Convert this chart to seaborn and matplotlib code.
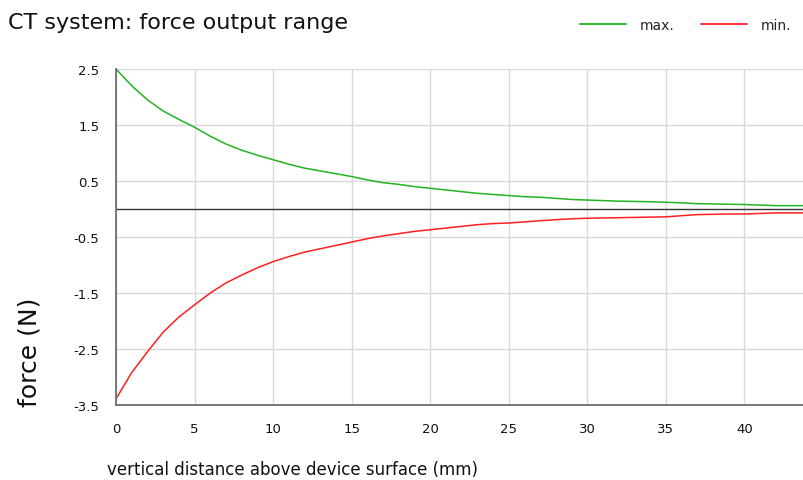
import numpy as np
import pandas as pd
import matplotlib
matplotlib.use("Agg")
import matplotlib.pyplot as plt
import seaborn as sns
from matplotlib.lines import Line2D

distance_mm = [0, 1, 2, 3, 4, 5, 6, 7, 8, 9, 10, 11, 12, 13, 14, 15, 16, 17, 18, 19, 20,
               21, 22, 23, 24, 25, 26, 27, 28, 29, 30, 31, 32, 33, 34, 35, 36, 37, 38, 39,
               40, 41, 42, 43, 44]
force_max = [2.50, 2.20, 1.95, 1.75, 1.60, 1.46, 1.30, 1.16, 1.05, 0.96, 0.88, 0.80, 0.73,
             0.68, 0.63, 0.58, 0.52, 0.47, 0.44, 0.40, 0.37, 0.34, 0.31, 0.28, 0.26, 0.24,
             0.22, 0.21, 0.19, 0.17, 0.16, 0.15, 0.14, 0.135, 0.13, 0.12, 0.11, 0.095, 0.09,
             0.085, 0.08, 0.07, 0.06, 0.06, 0.06]
force_min = [-3.39, -2.92, -2.55, -2.20, -1.93, -1.71, -1.50, -1.32, -1.18, -1.05, -0.94,
             -0.85, -0.77, -0.71, -0.65, -0.59, -0.53, -0.48, -0.44, -0.40, -0.37, -0.34,
             -0.31, -0.28, -0.26, -0.25, -0.23, -0.21, -0.19, -0.175, -0.165, -0.16, -0.155,
             -0.15, -0.145, -0.14, -0.12, -0.10, -0.095, -0.09, -0.088, -0.08, -0.07, -0.07,
             -0.07]
series_names = ["max.", "min."]
y_ticks = [2.5, 1.5, 0.5, -0.5, -1.5, -2.5, -3.5]
x_ticks = [0, 5, 10, 15, 20, 25, 30, 35, 40]

df = pd.DataFrame({
    "distance": distance_mm * 2,
    "force": force_max + force_min,
    "series": [series_names[0]] * len(distance_mm) + [series_names[1]] * len(distance_mm),
})

sns.set_style("white")
plt.rcParams["font.family"] = ["DejaVu Sans"]

fig = plt.figure(figsize=(8.04, 4.81), dpi=100)
ax = fig.add_axes([116 / 804, 1 - 406 / 481, 688 / 804, 336 / 481])

colors = {"max.": "#22b422", "min.": "#ff2020"}
sns.lineplot(data=df, x="distance", y="force", hue="series",
             palette=colors, linewidth=1.1, ax=ax, legend=False)

ax.axhline(0, color="#333333", linewidth=1.0, zorder=1)
ax.set_xlim(0, 43.8)
ax.set_ylim(-3.5, 2.5)
ax.set_xticks(x_ticks)
ax.set_yticks(y_ticks)
ax.set_yticklabels([f"{v:.1f}" for v in y_ticks])
ax.grid(True, color="#d9d9d9", linewidth=1.0)
ax.set_axisbelow(True)
for s in ["top", "right"]:
    ax.spines[s].set_visible(False)
for s in ["left", "bottom"]:
    ax.spines[s].set_color("#777777")
    ax.spines[s].set_linewidth(1.4)
ax.tick_params(axis="both", direction="out", length=6, width=1.1, color="#333333",
               labelsize=9.5, labelcolor="#111111", pad=6)

ax.set_xlabel("vertical distance above device surface (mm)", fontsize=12, color="#111111")
ax.xaxis.set_label_coords(0.256, -0.163)
ax.set_ylabel("force (N)", fontsize=18, color="#111111")
ax.yaxis.set_label_coords(-0.108, 0.16)

fig.text(0.01, 0.952, "CT system: force output range", fontsize=16, color="#111111",
         va="center", ha="left")

handles = [Line2D([], [], color=colors["max."], linewidth=1.3),
           Line2D([], [], color=colors["min."], linewidth=1.3)]
fig.legend(handles, series_names, loc="center right", bbox_to_anchor=(1.0, 0.946),
           ncol=2, frameon=False, fontsize=10, handlelength=3.3, columnspacing=1.9,
           handletextpad=1.0)

fig.savefig("out.png", dpi=100)
